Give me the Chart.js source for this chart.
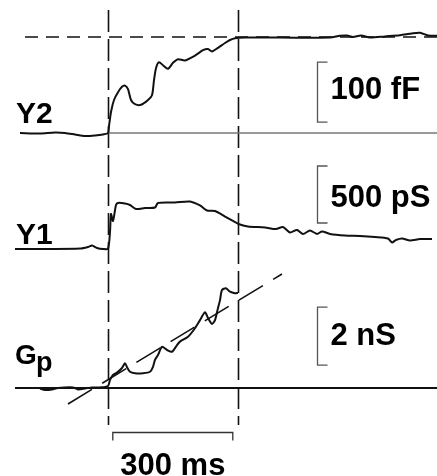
<!DOCTYPE html>
<html>
<head>
<meta charset="utf-8">
<script src="https://cdn.jsdelivr.net/npm/chart.js@4.4.1/dist/chart.umd.min.js"></script>
<style>
  html, body { margin: 0; padding: 0; background: #fff; }
  #wrap { width: 437px; height: 476px; }
</style>
</head>
<body>
<div id="wrap"><canvas id="c" width="437" height="476"></canvas></div>
<script>
// Time in ms, relative to stimulus onset
const y2Time = [-220, -170, -132.5, -107.5, -82.5, -57.5, -32.5, -12.5, 0, 2.5, 7.5, 15, 25, 35, 42.5, 50, 57.5, 67.5, 82.5, 100, 110, 115, 120, 127.5, 137.5, 150, 162.5, 175, 192.5, 217.5, 237.5, 250, 260, 275, 292.5, 305, 317.5, 342.5, 430, 555, 580, 597.5, 612.5, 632.5, 655, 692.5, 730, 760, 780, 800, 822.5];
// Y2 (capacitance), fF
const y2Values = [0, -0.8, 0.8, 0, -2.5, -5, -4.2, -2.5, 0, 11.7, 35, 55, 68, 77, 79, 73, 55, 48, 47, 55, 63, 88, 108, 118, 113, 107, 117, 123, 121, 129, 138, 140, 136, 142, 150, 155, 158, 159, 159, 159, 162, 162.5, 160, 162.5, 159, 161, 163, 166, 167, 162.5, 162];

const y1Time = [-232.5, -145, -70, -50, -40, -27.5, -12.5, 0, 5, 7.5, 12.5, 20, 25, 42.5, 55, 70, 92.5, 117.5, 125, 167.5, 205, 230, 247.5, 267.5, 292.5, 312.5, 330, 350, 392.5, 420, 437.5, 455, 472.5, 487.5, 505, 522.5, 535, 555, 592.5, 630, 667.5, 700, 710, 720, 735, 755, 780, 810];
// Y1 (admittance), pS
const y1Values = [0, 0, 4, 18, 31, 9, 0, 4, 149, 307, 246, 386, 404, 399, 386, 351, 360, 364, 404, 408, 417, 382, 338, 333, 285, 246, 215, 197, 189, 175, 193, 145, 167, 132, 162, 132, 154, 132, 118, 114, 105, 92, 57, 79, 92, 75, 88, 88];

const gpTime = [-170, -157.5, -140, -125, -87.5, -75, -57.5, -40, -20, 0, 5, 12.5, 22.5, 35, 42.5, 47.5, 55, 67.5, 87.5, 105, 112.5, 117.5, 125, 135, 147.5, 160, 172.5, 180, 200, 217.5, 230, 242.5, 250, 260, 267.5, 275, 280, 285, 295, 305, 317.5, 325];
// Gp (parallel conductance), nS
const gpValues = [-0.02, -0.07, -0.05, 0, 0.02, -0.05, -0.02, 0.02, 0.02, 0.07, 0.28, 0.45, 0.53, 0.69, 0.85, 0.72, 0.56, 0.51, 0.51, 0.56, 0.73, 0.97, 1.14, 1.42, 1.31, 1.25, 1.48, 1.6, 1.77, 2.06, 2.34, 2.61, 2.41, 2.21, 2.34, 2.76, 3.03, 3.38, 3.44, 3.32, 3.27, 3.28];

// Linear fit through the Gp rise
const fitTime = [-100, 435];
const fitValues = [-0.55, 3.93];

// Plateau level of Y2 (fF)
const plateauC = 160;

// Onset / end markers (ms)
const markerTimes = [0, 325];

// Calibration bars
const scaleBars = [
  { axis: 'yC',  label: '100 fF', from: 18,   size: 100, dy: -2 },
  { axis: 'yY1', label: '500 pS', from: 228,  size: 500, dy: 4 },
  { axis: 'yG',  label: '2 nS',   from: 0.79, size: 2,   dy: 0 }
];
const timeBar = { label: '300 ms', from: 12, size: 300 };

const W = 437, H = 476;
// vertical band for a trace: baseline pixel row and pixels per unit
function band(basePx, pxPerUnit) {
  const max = basePx / pxPerUnit;
  return { min: max - H / pxPerUnit, max: max };
}
const bandC = band(133, 0.6);
const bandY1 = band(249, 0.114);
const bandG = band(388, 29);

const pts = (xs, ys) => xs.map((x, i) => ({ x: x, y: ys[i] }));
const INK = '#111';

const decor = {
  id: 'decor',
  beforeDatasetsDraw(chart) {
    const ctx = chart.ctx, xs = chart.scales.x;
    ctx.save();
    ctx.strokeStyle = INK;
    ctx.lineWidth = 1.6;
    ctx.setLineDash([22, 7]);
    markerTimes.forEach(t => {
      const x = Math.round(xs.getPixelForValue(t)) + 0.5;
      ctx.beginPath();
      ctx.moveTo(x, 10);
      ctx.lineTo(x, 425);
      ctx.stroke();
    });
    ctx.restore();
  },
  afterDatasetsDraw(chart) {
    const ctx = chart.ctx, xs = chart.scales.x;
    ctx.save();
    const barX = Math.round(xs.getPixelForValue(522.5)) + 0.5;
    ctx.font = 'bold 31px "Liberation Sans", Arial, sans-serif';
    ctx.textBaseline = 'middle';
    scaleBars.forEach(b => {
      const ys = chart.scales[b.axis];
      const y0 = ys.getPixelForValue(b.from);
      const y1 = ys.getPixelForValue(b.from + b.size);
      ctx.strokeStyle = '#555';
      ctx.lineWidth = 1.3;
      ctx.beginPath();
      ctx.moveTo(barX + 10, y1);
      ctx.lineTo(barX, y1);
      ctx.lineTo(barX, y0);
      ctx.lineTo(barX + 10, y0);
      ctx.stroke();
      ctx.fillStyle = '#000';
      ctx.textAlign = 'left';
      ctx.fillText(b.label, barX + 13, (y0 + y1) / 2 + b.dy);
    });

    // time calibration bar
    const yT = Math.round(chart.scales.yG.getPixelForValue(-1.52)) + 0.5;
    const xa = xs.getPixelForValue(timeBar.from);
    const xb = xs.getPixelForValue(timeBar.from + timeBar.size);
    ctx.strokeStyle = '#333';
    ctx.lineWidth = 1.3;
    ctx.beginPath();
    ctx.moveTo(xa, yT + 8);
    ctx.lineTo(xa, yT);
    ctx.lineTo(xb, yT);
    ctx.lineTo(xb, yT + 8);
    ctx.stroke();
    ctx.textAlign = 'center';
    ctx.textBaseline = 'alphabetic';
    ctx.fillStyle = '#000';
    ctx.fillText(timeBar.label, (xa + xb) / 2, 475);

    // trace names
    ctx.textAlign = 'left';
    ctx.font = 'bold 30px "Liberation Sans", Arial, sans-serif';
    ctx.fillText('Y2', 16, 123);
    ctx.fillText('Y1', 16, 244);
    ctx.font = 'bold 28px "Liberation Sans", Arial, sans-serif';
    ctx.fillText('G', 15, 364);
    ctx.font = 'bold 27px "Liberation Sans", Arial, sans-serif';
    ctx.fillText('p', 36, 371);
    ctx.restore();
  }
};

const line = (data, axis, extra) => Object.assign({
  data: data, yAxisID: axis, borderColor: INK, borderWidth: 2,
  pointRadius: 0, tension: 0.25, fill: false
}, extra || {});

new Chart(document.getElementById('c'), {
  type: 'line',
  data: {
    datasets: [
      line(pts(y2Time, y2Values), 'yC'),
      line(pts(y1Time, y1Values), 'yY1'),
      line(pts(gpTime, gpValues), 'yG'),
      line(pts(fitTime, fitValues), 'yG', { borderDash: [28, 12], borderWidth: 1.6, tension: 0 }),
      line(pts([-207.5, 822.5], [plateauC, plateauC]), 'yC', { borderDash: [13, 8], borderWidth: 1.5, tension: 0 }),
      line(pts([0, 822.5], [0, 0]), 'yC', { borderColor: '#777', borderWidth: 1.3, tension: 0 }),
      line(pts([-232.5, 822.5], [0, 0]), 'yG', { borderWidth: 1.8, tension: 0 })
    ]
  },
  options: {
    responsive: false,
    animation: false,
    layout: { padding: 0 },
    plugins: { legend: { display: false }, tooltip: { enabled: false } },
    scales: {
      x: { type: 'linear', min: -270, max: 822.5, display: false },
      yC: { type: 'linear', min: bandC.min, max: bandC.max, display: false },
      yY1: { type: 'linear', min: bandY1.min, max: bandY1.max, display: false },
      yG: { type: 'linear', min: bandG.min, max: bandG.max, display: false }
    }
  },
  plugins: [decor]
});
</script>
</body>
</html>
